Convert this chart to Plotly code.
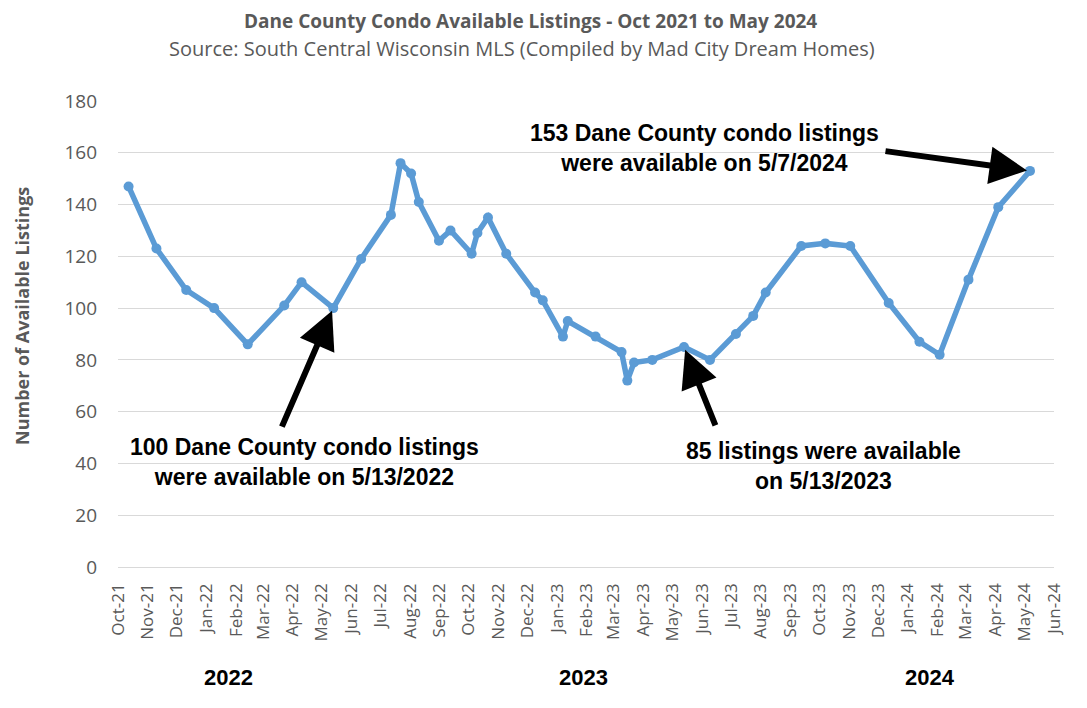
import plotly.graph_objects as go

dates = [
    "2021-10-12", "2021-11-10", "2021-12-11", "2022-01-09", "2022-02-13",
    "2022-03-23", "2022-04-10", "2022-05-13", "2022-06-11", "2022-07-12",
    "2022-07-22", "2022-08-02", "2022-08-10", "2022-08-31", "2022-09-12",
    "2022-10-04", "2022-10-10", "2022-10-21", "2022-11-09", "2022-12-09",
    "2022-12-17", "2023-01-07", "2023-01-12", "2023-02-10", "2023-03-09",
    "2023-03-15", "2023-03-22", "2023-04-10", "2023-05-13", "2023-06-09",
    "2023-07-06", "2023-07-24", "2023-08-06", "2023-09-12", "2023-10-07",
    "2023-11-02", "2023-12-12", "2024-01-13", "2024-02-03", "2024-03-04",
    "2024-04-04", "2024-05-07",
]
listings = [
    147, 123, 107, 100, 86,
    101, 110, 100, 119, 136,
    156, 152, 141, 126, 130,
    121, 129, 135, 121, 106,
    103, 89, 95, 89, 83,
    72, 79, 80, 85, 80,
    90, 97, 106, 124, 125,
    124, 102, 87, 82, 111,
    139, 153,
]
year_labels = ["2022", "2023", "2024"]

gray = "#595959"
blue = "#5B9BD5"

# plot area in page pixels (page has an 8px body margin)
PL, PR, PT, PB = 118, 1054, 101, 567


def px(xp):
    return (xp - PL) / (PR - PL)


def py(yp):
    return (PB - yp) / (PB - PT)


fig = go.Figure()
fig.add_trace(go.Scatter(
    x=dates, y=listings, mode="lines+markers",
    line=dict(color=blue, width=5.5),
    marker=dict(color=blue, size=10),
    hoverinfo="x+y",
))

fig.update_layout(
    width=1079, height=700,
    plot_bgcolor="white", paper_bgcolor="white",
    margin=dict(l=PL - 8, r=1079 - (PR - 8), t=PT - 8, b=700 - (PB - 8)),
    showlegend=False,
    font=dict(family="Open Sans", color=gray),
)

fig.update_xaxes(
    range=["2021-10-01", "2024-06-01"],
    dtick="M1", tick0="2021-10-01", tickformat="%b-%y",
    tickangle=-90, tickfont=dict(size=17, color=gray), ticklabelstandoff=12,
    showgrid=False, showline=False, ticks="",
)
fig.update_yaxes(
    range=[0, 180], dtick=20,
    showgrid=True, gridcolor="#D9D9D9", gridwidth=1,
    zeroline=True, zerolinecolor="#D9D9D9", zerolinewidth=1,
    tickfont=dict(size=19, color=gray), ticklabelstandoff=20,
)

# titles
fig.add_annotation(
    x=px(530), y=py(21), xref="paper", yref="paper",
    text="<b>Dane County Condo Available Listings - Oct 2021 to May 2024</b>",
    showarrow=False, font=dict(size=19, color=gray), xanchor="center", yanchor="middle",
)
fig.add_annotation(
    x=px(522), y=py(49), xref="paper", yref="paper",
    text="Source: South Central Wisconsin MLS (Compiled by Mad City Dream Homes)",
    showarrow=False, font=dict(size=20, color=gray), xanchor="center", yanchor="middle",
)
fig.add_annotation(
    x=px(22), y=py(316), xref="paper", yref="paper",
    text="<b>Number of Available Listings</b>", textangle=-90,
    showarrow=False, font=dict(size=18, color=gray), xanchor="center", yanchor="middle",
)

# callout arrows, anchored on the highlighted points
arrows = [
    (dates[7], listings[7], -52, 120),
    (dates[28], listings[28], 32, 80),
    (dates[41], listings[41], -146, -20),
]
for ax_date, ax_val, dx, dy in arrows:
    fig.add_annotation(
        x=ax_date, y=ax_val, xref="x", yref="y", text="",
        showarrow=True, ax=dx, ay=dy, axref="pixel", ayref="pixel",
        arrowhead=2, arrowsize=1.25, arrowwidth=6, arrowcolor="black", standoff=3,
    )

note_font = dict(family="Liberation Sans, Arial", size=23, color="black")
notes = [
    ("<b>100 Dane County condo listings<br>were available on 5/13/2022</b>", 304, 462),
    ("<b>85 listings were available<br>on 5/13/2023</b>", 823, 466),
    ("<b>153 Dane County condo listings<br>were available on 5/7/2024</b>", 704, 148),
]
for txt, xp, yp in notes:
    fig.add_annotation(
        x=px(xp), y=py(yp), xref="paper", yref="paper",
        text=txt, showarrow=False, font=note_font, align="center",
        xanchor="center", yanchor="middle",
    )

for lbl, xp in zip(year_labels, [228, 583, 930]):
    fig.add_annotation(
        x=px(xp), y=py(677), xref="paper", yref="paper",
        text=f"<b>{lbl}</b>", showarrow=False,
        font=dict(family="Liberation Sans, Arial", size=22, color="black"),
        xanchor="center", yanchor="middle",
    )

fig.write_html("out.html")
